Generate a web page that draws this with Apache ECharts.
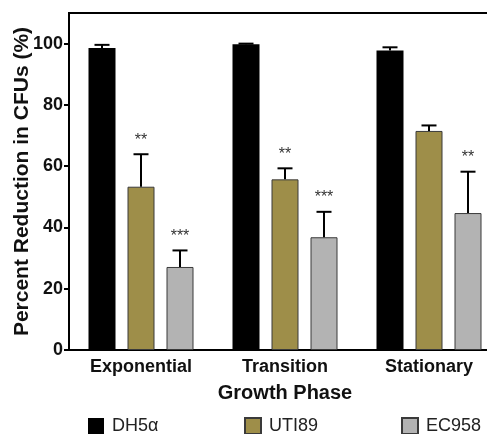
<!DOCTYPE html>
<html>
<head>
<meta charset="utf-8">
<style>
  html, body { margin: 0; padding: 0; background: #fff; }
  #chart { width: 487px; height: 434px; }
</style>
<script src="https://cdn.jsdelivr.net/npm/echarts@6/dist/echarts.min.js"></script>
</head>
<body>
<div id="chart"></div>
<script>
// Growth phases on the x axis
const phases = ['Exponential', 'Transition', 'Stationary'];
// Strains (one bar series each)
const strains = ['DH5α', 'UTI89', 'EC958'];
// Mean percent reduction in CFUs
const meanDH5a = [98.6, 99.8, 97.8];
const meanUTI89 = [53.3, 55.7, 71.5];
const meanEC958 = [27.1, 36.8, 44.7];
// Upper error (SEM)
const errDH5a = [1.0, 0.2, 1.0];
const errUTI89 = [10.6, 3.6, 1.8];
const errEC958 = [5.4, 8.3, 13.5];
// Significance marks
const sigDH5a = ['', '', ''];
const sigUTI89 = ['**', '**', ''];
const sigEC958 = ['***', '***', '**'];
// Y tick values
const yTicks = [0, 20, 40, 60, 80, 100];

const colors = ['#000000', '#9e8e49', '#b3b3b3'];
const FONT = '"Liberation Sans", Arial, Helvetica, sans-serif';
const BAR_W = 27;
const BAR_GAP = 12;

const means = [meanDH5a, meanUTI89, meanEC958];
const errs = [errDH5a, errUTI89, errEC958];
const sigs = [sigDH5a, sigUTI89, sigEC958];

const chart = echarts.init(document.getElementById('chart'), null, { renderer: 'canvas' });

const barSeries = strains.map((name, k) => ({
  name: name,
  type: 'bar',
  data: means[k],
  barWidth: BAR_W,
  barGap: (BAR_GAP / BAR_W * 100) + '%',
  itemStyle: {
    color: colors[k],
    borderColor: k === 0 ? '#000' : '#3a3a3a',
    borderWidth: k === 0 ? 0 : 1
  },
  z: 2
}));

// Upper whiskers with caps and significance stars
const errSeries = strains.map((name, k) => ({
  type: 'custom',
  name: name + '-err',
  z: 3,
  data: phases.map((p, i) => [i, means[k][i], errs[k][i]]),
  renderItem: function (params, api) {
    const i = api.value(0);
    const m = api.value(1);
    const e = api.value(2);
    const s = sigs[k][i];
    const off = (k - 1) * (BAR_W + BAR_GAP);
    const base = api.coord([i, m]);
    const top = api.coord([i, m + e]);
    const x = base[0] + off;
    const children = [
      { type: 'line', shape: { x1: x, y1: base[1], x2: x, y2: top[1] },
        style: { stroke: '#000', lineWidth: 2 } },
      { type: 'line', shape: { x1: x - 7.5, y1: top[1], x2: x + 7.5, y2: top[1] },
        style: { stroke: '#000', lineWidth: 2 } }
    ];
    if (s) {
      children.push({
        type: 'text',
        style: {
          text: s, x: x, y: top[1] - 14,
          align: 'center', verticalAlign: 'middle',
          font: '16px ' + FONT, fill: '#333'
        }
      });
    }
    return { type: 'group', children: children };
  }
}));

const legends = strains.map((name, k) => ({
  data: [name],
  left: [83, 239, 396][k],
  top: 412,
  itemWidth: 16,
  itemHeight: 16,
  icon: 'rect',
  textStyle: { fontFamily: FONT, fontSize: 18, color: '#222', padding: [0, 0, 0, 3] }
}));

chart.setOption({
  animation: false,
  backgroundColor: '#fff',
  legend: legends,
  grid: {
    left: 69, top: 13, width: 432, bottom: 84,
    containLabel: false,
    outerBoundsMode: 'none',
    show: true, borderColor: '#000', borderWidth: 2, backgroundColor: 'transparent'
  },
  xAxis: {
    type: 'category',
    data: phases,
    name: 'Growth Phase',
    nameLocation: 'middle',
    nameGap: 33,
    nameMoveOverlap: false,
    nameTextStyle: { fontFamily: FONT, fontSize: 20, fontWeight: 'bold', color: '#111' },
    axisLine: { lineStyle: { color: '#000', width: 2 } },
    axisTick: { alignWithLabel: true, length: 5, lineStyle: { color: '#000', width: 2 } },
    axisLabel: { fontFamily: FONT, fontSize: 18, fontWeight: 'bold', color: '#111', margin: 8 }
  },
  yAxis: {
    type: 'value',
    min: 0, max: 110, interval: 20,
    name: 'Percent Reduction in CFUs (%)',
    nameLocation: 'middle',
    nameGap: 36,
    nameMoveOverlap: false,
    nameTextStyle: { fontFamily: FONT, fontSize: 21, fontWeight: 'bold', color: '#111' },
    axisLine: { show: true, lineStyle: { color: '#000', width: 2 } },
    axisTick: { show: true, length: 5, customValues: yTicks, lineStyle: { color: '#000', width: 2 } },
    axisLabel: { fontFamily: FONT, fontSize: 18, fontWeight: 'bold', color: '#111', margin: 6, customValues: yTicks },
    splitLine: { show: false }
  },
  series: barSeries.concat(errSeries)
});
</script>
</body>
</html>
